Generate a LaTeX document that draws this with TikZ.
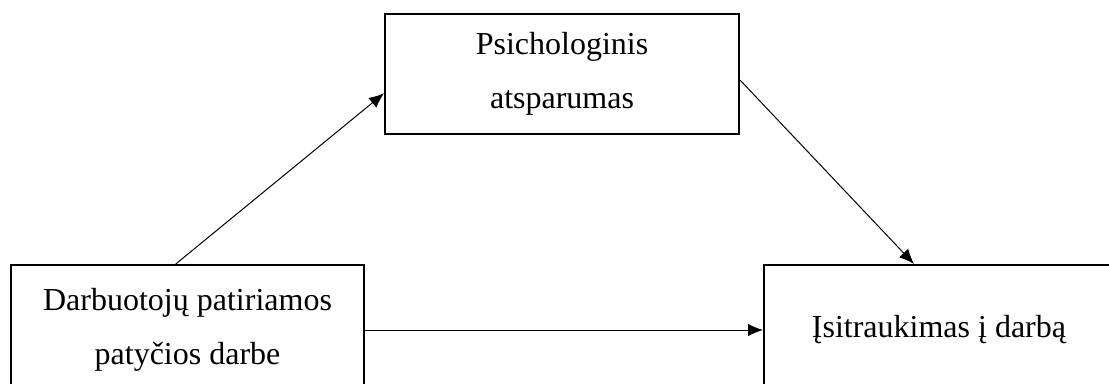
\documentclass[tikz,border=0pt]{standalone}
\usepackage{fontspec}
\setmainfont{Liberation Serif}
\usetikzlibrary{arrows.meta,calc}

\tikzset{
	varbox/.style={draw, line width=0.8pt, inner sep=0pt, align=center,
		font=\fontsize{12.8}{21.6}\selectfont},
	link/.style={line width=0.4pt, -{Latex[length=6pt,width=5pt]}}
}

\begin{document}
\begin{tikzpicture}
\useasboundingbox (0,0) rectangle (15.590,5.384);
\clip (0,0) rectangle (15.590,5.384);

\path (7.901,4.344) node[varbox, minimum width=4.977cm, minimum height=1.687cm] (resil) {Psichologinis\\atsparumas};
\path (2.636,0.745) node[varbox, minimum width=4.962cm, minimum height=1.828cm] (bully) {Darbuotojų patiriamos\\patyčios darbe};
\path (13.200,0.745) node[varbox, minimum width=4.920cm, minimum height=1.828cm] (engage) {Įsitraukimas į darbą};

\draw [link] ($(bully.north west)!0.467!(bully.north east)$) -- ($(resil.north west)!0.658!(resil.south west)$);
\draw [link] ($(resil.north east)!0.55!(resil.south east)$) -- ($(engage.north west)!0.429!(engage.north east)$);
\draw [link] (bully.east) -- (engage.west);

\end{tikzpicture}
\end{document}
